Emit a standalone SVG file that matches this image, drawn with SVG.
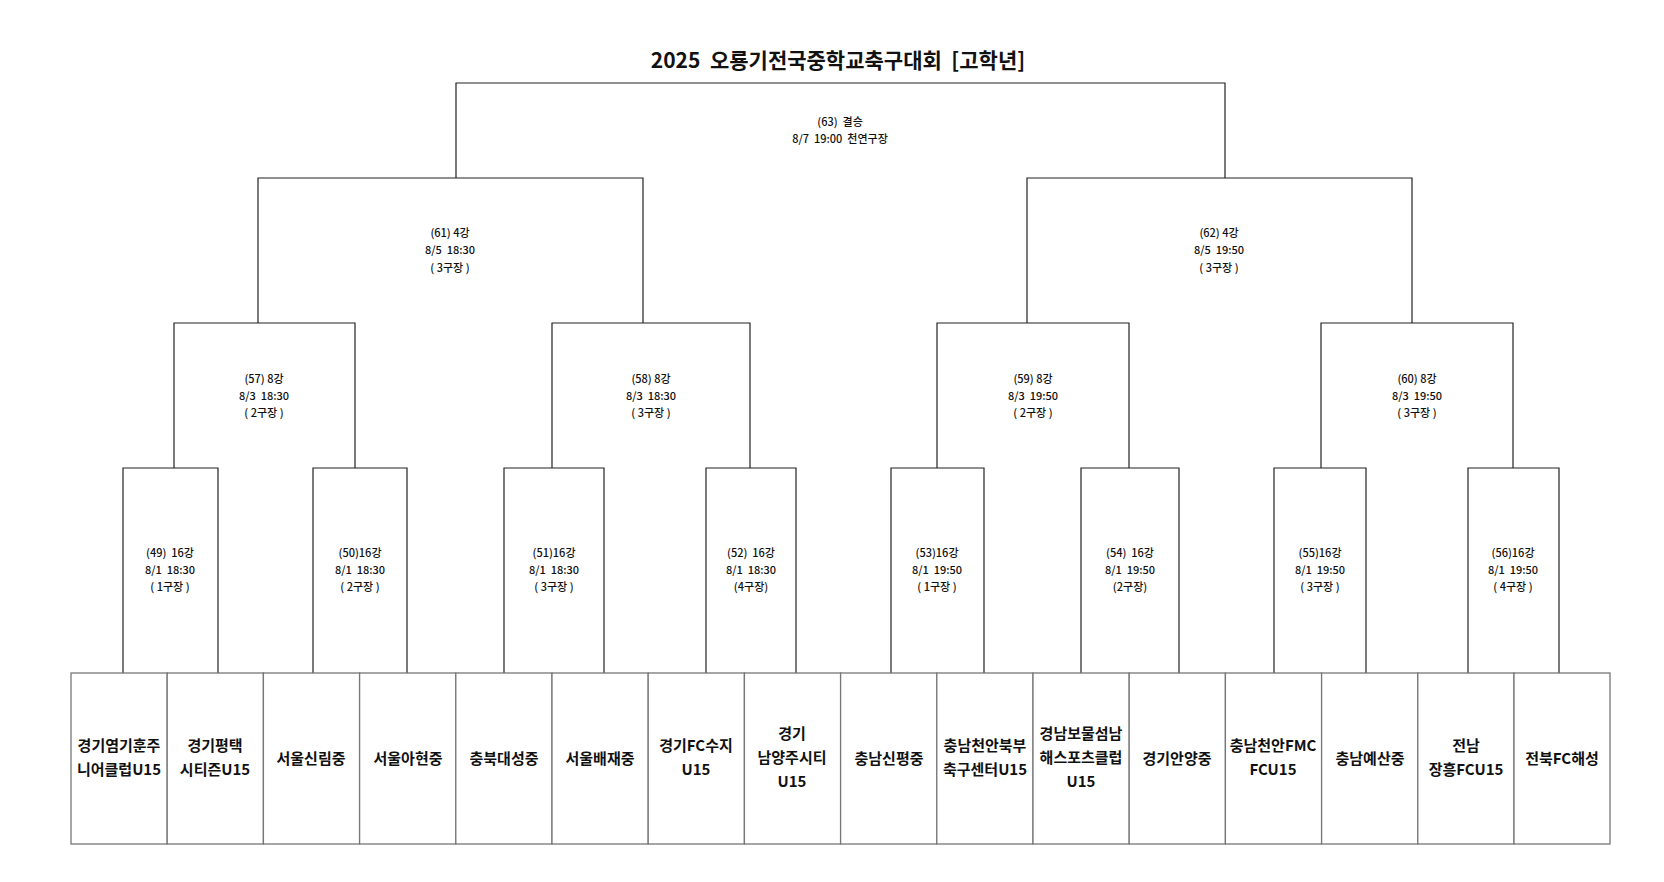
<svg xmlns="http://www.w3.org/2000/svg" width="1664" height="882" viewBox="0 0 1664 882">
<style>
text{font-family:"Noto Sans CJK KR","Noto Sans",sans-serif;text-anchor:middle;fill:#111;white-space:pre}
.t{font-size:21px;font-weight:bold}
.m{font-size:11px;font-weight:500}
.n{font-size:15px;font-weight:bold}
.b{fill:none;stroke:#222;stroke-width:1.2}
.tb{fill:#fff;stroke:#777;stroke-width:1.3}
</style>
<rect width="1664" height="882" fill="#fff"/>
<text class="t" x="838" y="68">2025  오룡기전국중학교축구대회  [고학년]</text>
<g id="connectors">
<polyline class="b" points="456,178 456,83 1225,83 1225,178"/>
<polyline class="b" points="258,323 258,178 643,178 643,323"/>
<polyline class="b" points="1027,323 1027,178 1412,178 1412,323"/>
<polyline class="b" points="174,468 174,323 355,323 355,468"/>
<polyline class="b" points="552,468 552,323 750,323 750,468"/>
<polyline class="b" points="937,468 937,323 1129,323 1129,468"/>
<polyline class="b" points="1321,468 1321,323 1513,323 1513,468"/>
<polyline class="b" points="123,673 123,468 218,468 218,673"/>
<polyline class="b" points="313,673 313,468 407,468 407,673"/>
<polyline class="b" points="504,673 504,468 604,468 604,673"/>
<polyline class="b" points="706,673 706,468 796,468 796,673"/>
<polyline class="b" points="891,673 891,468 984,468 984,673"/>
<polyline class="b" points="1081,673 1081,468 1179,468 1179,673"/>
<polyline class="b" points="1274,673 1274,468 1366,468 1366,673"/>
<polyline class="b" points="1468,673 1468,468 1559,468 1559,673"/>
</g>
<g id="m63"><text class="m" x="840" y="126">(63)  결승</text><text class="m" x="840" y="143">8/7  19:00  천연구장</text></g>
<g id="m61"><text class="m" x="450" y="237">(61) 4강</text><text class="m" x="450" y="254">8/5  18:30</text><text class="m" x="450" y="272">( 3구장 )</text></g>
<g id="m62"><text class="m" x="1219" y="237">(62) 4강</text><text class="m" x="1219" y="254">8/5  19:50</text><text class="m" x="1219" y="272">( 3구장 )</text></g>
<g id="m57"><text class="m" x="264" y="383">(57) 8강</text><text class="m" x="264" y="400">8/3  18:30</text><text class="m" x="264" y="417">( 2구장 )</text></g>
<g id="m58"><text class="m" x="651" y="383">(58) 8강</text><text class="m" x="651" y="400">8/3  18:30</text><text class="m" x="651" y="417">( 3구장 )</text></g>
<g id="m59"><text class="m" x="1033" y="383">(59) 8강</text><text class="m" x="1033" y="400">8/3  19:50</text><text class="m" x="1033" y="417">( 2구장 )</text></g>
<g id="m60"><text class="m" x="1417" y="383">(60) 8강</text><text class="m" x="1417" y="400">8/3  19:50</text><text class="m" x="1417" y="417">( 3구장 )</text></g>
<g id="m49"><text class="m" x="170" y="557">(49)  16강</text><text class="m" x="170" y="574">8/1  18:30</text><text class="m" x="170" y="591">( 1구장 )</text></g>
<g id="m50"><text class="m" x="360" y="557">(50)16강</text><text class="m" x="360" y="574">8/1  18:30</text><text class="m" x="360" y="591">( 2구장 )</text></g>
<g id="m51"><text class="m" x="554" y="557">(51)16강</text><text class="m" x="554" y="574">8/1  18:30</text><text class="m" x="554" y="591">( 3구장 )</text></g>
<g id="m52"><text class="m" x="751" y="557">(52)  16강</text><text class="m" x="751" y="574">8/1  18:30</text><text class="m" x="751" y="591">(4구장)</text></g>
<g id="m53"><text class="m" x="937" y="557">(53)16강</text><text class="m" x="937" y="574">8/1  19:50</text><text class="m" x="937" y="591">( 1구장 )</text></g>
<g id="m54"><text class="m" x="1130" y="557">(54)  16강</text><text class="m" x="1130" y="574">8/1  19:50</text><text class="m" x="1130" y="591">(2구장)</text></g>
<g id="m55"><text class="m" x="1320" y="557">(55)16강</text><text class="m" x="1320" y="574">8/1  19:50</text><text class="m" x="1320" y="591">( 3구장 )</text></g>
<g id="m56"><text class="m" x="1513" y="557">(56)16강</text><text class="m" x="1513" y="574">8/1  19:50</text><text class="m" x="1513" y="591">( 4구장 )</text></g>
<g id="t1"><rect class="tb" x="71" y="673" width="96.2" height="171"/><text class="n" x="119" y="751">경기염기훈주</text><text class="n" x="119" y="775">니어클럽U15</text></g>
<g id="t2"><rect class="tb" x="167.2" y="673" width="96.2" height="171"/><text class="n" x="215" y="751">경기평택</text><text class="n" x="215" y="775">시티즌U15</text></g>
<g id="t3"><rect class="tb" x="263.4" y="673" width="96.2" height="171"/><text class="n" x="311" y="764">서울신림중</text></g>
<g id="t4"><rect class="tb" x="359.6" y="673" width="96.2" height="171"/><text class="n" x="408" y="764">서울아현중</text></g>
<g id="t5"><rect class="tb" x="455.8" y="673" width="96.2" height="171"/><text class="n" x="504" y="764">충북대성중</text></g>
<g id="t6"><rect class="tb" x="552" y="673" width="96.2" height="171"/><text class="n" x="600" y="764">서울배재중</text></g>
<g id="t7"><rect class="tb" x="648.2" y="673" width="96.2" height="171"/><text class="n" x="696" y="751">경기FC수지</text><text class="n" x="696" y="775">U15</text></g>
<g id="t8"><rect class="tb" x="744.4" y="673" width="96.2" height="171"/><text class="n" x="792" y="739">경기</text><text class="n" x="792" y="763">남양주시티</text><text class="n" x="792" y="787">U15</text></g>
<g id="t9"><rect class="tb" x="840.6" y="673" width="96.2" height="171"/><text class="n" x="889" y="764">충남신평중</text></g>
<g id="t10"><rect class="tb" x="936.8" y="673" width="96.2" height="171"/><text class="n" x="985" y="751">충남천안북부</text><text class="n" x="985" y="775">축구센터U15</text></g>
<g id="t11"><rect class="tb" x="1033" y="673" width="96.2" height="171"/><text class="n" x="1081" y="739">경남보물섬남</text><text class="n" x="1081" y="763">해스포츠클럽</text><text class="n" x="1081" y="787">U15</text></g>
<g id="t12"><rect class="tb" x="1129.2" y="673" width="96.2" height="171"/><text class="n" x="1177" y="764">경기안양중</text></g>
<g id="t13"><rect class="tb" x="1225.4" y="673" width="96.2" height="171"/><text class="n" x="1273" y="751">충남천안FMC</text><text class="n" x="1273" y="775">FCU15</text></g>
<g id="t14"><rect class="tb" x="1321.6" y="673" width="96.2" height="171"/><text class="n" x="1370" y="764">충남예산중</text></g>
<g id="t15"><rect class="tb" x="1417.8" y="673" width="96.2" height="171"/><text class="n" x="1466" y="751">전남</text><text class="n" x="1466" y="775">장흥FCU15</text></g>
<g id="t16"><rect class="tb" x="1514" y="673" width="96" height="171"/><text class="n" x="1562" y="764">전북FC해성</text></g>
</svg>
